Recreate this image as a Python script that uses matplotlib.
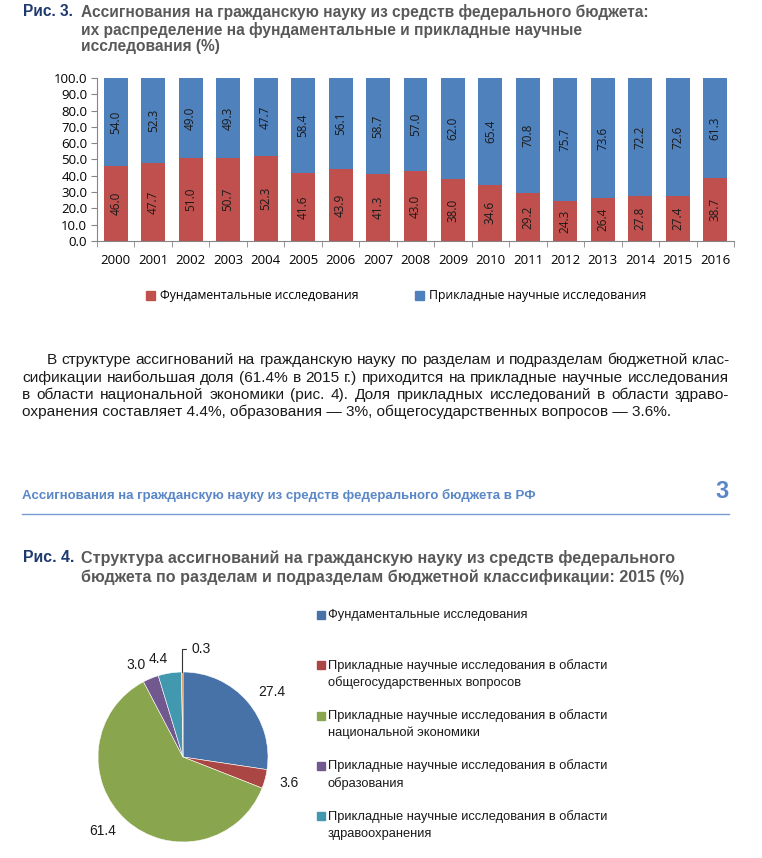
import numpy as np
import matplotlib
matplotlib.use("Agg")
import matplotlib.pyplot as plt
from matplotlib import font_manager
from matplotlib.patches import Patch, Rectangle
from matplotlib.lines import Line2D

# --- data -------------------------------------------------------------
years = [str(y) for y in range(2000, 2017)]
fundamental = [46.0, 47.7, 51.0, 50.7, 52.3, 41.6, 43.9, 41.3, 43.0,
               38.0, 34.6, 29.2, 24.3, 26.4, 27.8, 27.4, 38.7]
applied = [54.0, 52.3, 49.0, 49.3, 47.7, 58.4, 56.1, 58.7, 57.0,
           62.0, 65.4, 70.8, 75.7, 73.6, 72.2, 72.6, 61.3]
y_ticks = [0, 10, 20, 30, 40, 50, 60, 70, 80, 90, 100]
bar_names = ["Фундаментальные исследования", "Прикладные научные исследования"]

pie_values = [27.4, 3.6, 61.4, 3.0, 4.4, 0.3]
pie_colors = ["#4672a8", "#aa4643", "#89a54e", "#71588f", "#4198af", "#db843d"]
pie_legend = ["Фундаментальные исследования",
              "Прикладные научные исследования в области\nобщегосударственных вопросов",
              "Прикладные научные исследования в области\nнациональной экономики",
              "Прикладные научные исследования в области\nобразования",
              "Прикладные научные исследования в области\nздравоохранения"]

title3 = ["Ассигнования на гражданскую науку из средств федерального бюджета:",
          "их распределение на фундаментальные и прикладные научные",
          "исследования (%)"]
title4 = ["Структура ассигнований на гражданскую науку из средств федерального",
          "бюджета по разделам и подразделам бюджетной классификации: 2015 (%)"]
para = ["В структуре ассигнований на гражданскую науку по разделам и подразделам бюджетной клас-",
        "сификации наибольшая доля (61.4% в 2015 г.) приходится на прикладные научные исследования",
        "в области национальной экономики (рис. 4). Доля прикладных исследований в области здраво-",
        "охранения составляет 4.4%, образования — 3%, общегосударственных вопросов — 3.6%."]
header = "Ассигнования на гражданскую науку из средств федерального бюджета в РФ"

installed = {f.name for f in font_manager.fontManager.ttflist}
narrow = "Liberation Sans Narrow" if "Liberation Sans Narrow" in installed else "Liberation Sans"
narrow = [narrow, "DejaVu Sans"]
chart_font = ["Open Sans", "DejaVu Sans"]

W, H = 762, 858
fig = plt.figure(figsize=(W / 100, H / 100), dpi=100)


def box(x0, y0, x1, y1):
    return [x0 / W, 1 - y1 / H, (x1 - x0) / W, (y1 - y0) / H]


def put(x, y, s, **kw):
    kw.setdefault("va", "center")
    return fig.text(x / W, 1 - y / H, s, **kw)


dark_blue = "#1f3a6e"
gray = "#595959"
light_blue = "#5a87c6"

# --- Рис. 3 title -------------------------------------------------------
put(23, 12, "Рис. 3.", family=narrow, weight="bold", size=11.2, color=dark_blue)
for y, line in zip([12, 30, 47], title3):
    put(81, y, line, family=narrow, weight="bold", size=11.2, color=gray)

# --- stacked bars --------------------------------------------------------
ax = fig.add_axes(box(97, 78, 734, 241))
x = np.arange(len(years))
b1 = ax.bar(x, fundamental, 0.64, color="#c0504d")
b2 = ax.bar(x, applied, 0.64, bottom=fundamental, color="#4f81bd")
for c in (b1, b2):
    ax.bar_label(c, fmt="%.1f", label_type="center", rotation=90,
                 fontsize=8.5, family=chart_font, color="#1a1a1a")
ax.set_xlim(-0.5, len(years) - 0.5)
ax.set_ylim(0, 100)
ax.set_yticks(y_ticks)
ax.set_yticklabels([f"{v:.1f}" for v in y_ticks])
ax.set_xticks(x)
ax.set_xticklabels(years)
ax.set_xticks(np.arange(len(years) + 1) - 0.5, minor=True)
ax.tick_params(axis="x", which="major", length=0, pad=9)
ax.tick_params(axis="x", which="minor", length=4, color="#868686")
ax.tick_params(axis="y", length=4, color="#868686", pad=3)
for t in ax.get_xticklabels() + ax.get_yticklabels():
    t.set_family(chart_font)
    t.set_fontsize(9.5)
for s in ("top", "right"):
    ax.spines[s].set_visible(False)
for s in ("left", "bottom"):
    ax.spines[s].set_color("#868686")

handles = [Patch(color="#c0504d"), Patch(color="#4f81bd")]
ax.legend(handles, bar_names, ncol=2, loc="center",
          bbox_to_anchor=(396 / W, 1 - 296 / H), bbox_transform=fig.transFigure,
          frameon=False, handlelength=0.75, handleheight=0.75, handletextpad=0.4,
          columnspacing=4.6, prop={"family": chart_font, "size": 8.8})

# --- paragraph (justified) ---------------------------------------------
ptxt = dict(family=narrow, size=11.1, color="#1a1a1a")
renderer = fig.canvas.get_renderer()
for i, (line, y) in enumerate(zip(para, [360, 378, 395, 412])):
    x0 = 47 if i == 0 else 22
    if i == len(para) - 1:
        put(x0, y, line, **ptxt)
        continue
    words = [put(x0, y, w, **ptxt) for w in line.split()]
    widths = [t.get_window_extent(renderer).width for t in words]
    gap = (729 - x0 - sum(widths)) / (len(words) - 1)
    pos = x0
    for t, w in zip(words, widths):
        t.set_x(pos / W)
        pos += w + gap

# --- page header ----------------------------------------------------------
put(22, 495, header, family=narrow, weight="bold", size=9.5, color=light_blue)
put(729, 491, "3", ha="right", family=narrow, weight="bold", size=17, color=light_blue)
fig.add_artist(Line2D([22 / W, 729 / W], [1 - 514 / H] * 2, color="#7b9bd3", lw=1))

# --- Рис. 4 title -------------------------------------------------------
put(23, 558, "Рис. 4.", family=narrow, weight="bold", size=11.4, color=dark_blue)
for y, line in zip([558, 577], title4):
    put(81, y, line, family=narrow, weight="bold", size=11.6, color=gray)

# --- pie -------------------------------------------------------------------
pax = fig.add_axes(box(98, 672, 268, 842))
tp = dict(family=["Liberation Sans", "DejaVu Sans"], fontsize=10, color="#1a1a1a")
wedges, texts = pax.pie(pie_values, labels=[f"{v:.1f}" for v in pie_values],
                        colors=pie_colors, startangle=90, counterclock=False,
                        labeldistance=1.17, textprops=tp,
                        wedgeprops=dict(edgecolor="white", linewidth=0.4))
pax.set_xlim(-1, 1)
pax.set_ylim(-1, 1)
pax.set_aspect("equal")
pax.axis("off")

# smallest slice gets a leader line
texts[-1].set_visible(False)
w = wedges[-1]
theta = np.deg2rad((w.theta1 + w.theta2) / 2)
pax.annotate(f"{pie_values[-1]:.1f}", xy=(np.cos(theta), np.sin(theta)),
             xytext=(0.1, 1.27), ha="left", va="center",
             arrowprops=dict(arrowstyle="-", connectionstyle="angle,angleA=0,angleB=90,rad=0",
                             color="#333333", lw=0.8, shrinkA=2, shrinkB=0), **tp)

# legend for the pie (first line of each entry aligned with its square)
for i, (lab, col) in enumerate(zip(pie_legend, pie_colors)):
    y = 615 + 50.3 * i
    fig.add_artist(Rectangle((317 / W, 1 - (y + 4) / H), 8 / W, 8 / H,
                             transform=fig.transFigure, color=col))
    for j, part in enumerate(lab.split("\n")):
        put(328, y + 17.5 * j, part, family=narrow, size=9.3, color="#1a1a1a")

fig.savefig("out.png", dpi=100)
